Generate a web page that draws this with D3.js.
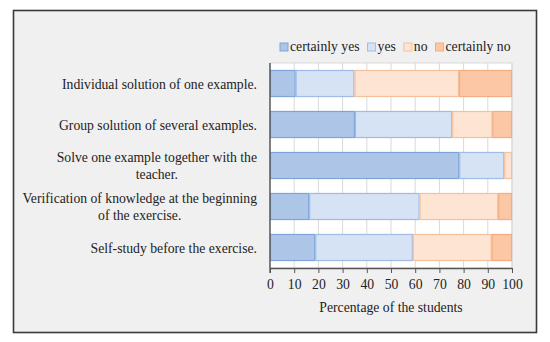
<!DOCTYPE html>
<html>
<head>
<meta charset="utf-8">
<script src="https://cdn.jsdelivr.net/npm/d3@7"></script>
<style>
  body { margin: 0; background: #fff; }
  text { font-family: "Liberation Serif", "DejaVu Serif", serif; fill: #222; }
</style>
</head>
<body>
<div id="chart"></div>
<script>
const width = 550
const height = 342

const categories = [
    "Individual solution of one example.",
    "Group solution of several examples.",
    "Solve one example together with the|teacher.",
    "Verification of knowledge at the beginning|of the exercise.",
    "Self-study before the exercise.",
]
const seriesNames = ["certainly yes", "yes", "no", "certainly no"]
const certainlyYes = [10.6, 35.1, 78.2, 16.2, 18.7]
const yes = [24.3, 40.2, 18.6, 45.6, 40.3]
const no = [43.2, 16.6, 3.2, 32.5, 32.6]
const certainlyNo = [21.9, 8.1, 0, 5.7, 8.4]
const xTicks = [0, 10, 20, 30, 40, 50, 60, 70, 80, 90, 100]

const fills = ["#adc6e8", "#d6e3f4", "#fde4d3", "#fbc7a5"]
const strokes = ["#7fa4d8", "#9ebce4", "#f7c09c", "#f3ad82"]

const rows = categories.map((c, i) => ({
    label: c,
    values: [certainlyYes[i], yes[i], no[i], certainlyNo[i]],
}))

const plot = { left: 270, right: 512, top: 63, bottom: 268 }
const fontSize = 13.7

const svg = d3.select("#chart").append("svg").attr("width", width).attr("height", height)

// outer frame
svg.append("rect")
    .attr("x", 13.5).attr("y", 10.5)
    .attr("width", 523).attr("height", 322)
    .attr("fill", "#f0f0f0")
    .attr("stroke", "#3a3a3a")
    .attr("stroke-width", 1.6)

const x = d3.scaleLinear().domain([0, 100]).range([plot.left, plot.right])
const y = d3.scaleBand().domain(d3.range(rows.length)).range([plot.top, plot.bottom]).paddingInner(0.34).paddingOuter(0.17)

svg.append("rect")
    .attr("x", plot.left).attr("y", plot.top)
    .attr("width", plot.right - plot.left).attr("height", plot.bottom - plot.top)
    .attr("fill", "#fff")
    .attr("stroke", "#d9d9d9")

// gridlines
svg.append("g")
    .selectAll("line")
    .data(xTicks)
    .enter()
    .append("line")
    .attr("x1", (d) => x(d)).attr("x2", (d) => x(d))
    .attr("y1", plot.top).attr("y2", plot.bottom)
    .attr("stroke", "#d9d9d9")
    .attr("stroke-width", 1)

// bars
const stacked = rows.map((r, i) => {
    let acc = 0
    return r.values.map((v, k) => {
        const seg = { row: i, k, x0: acc, x1: acc + v }
        acc += v
        return seg
    })
}).flat().filter((s) => s.x1 > s.x0)

svg.append("g")
    .selectAll("rect")
    .data(stacked)
    .enter()
    .append("rect")
    .attr("x", (d) => x(d.x0) + 0.5)
    .attr("y", (d) => y(d.row) + 0.5)
    .attr("width", (d) => x(d.x1) - x(d.x0) - 1)
    .attr("height", y.bandwidth() - 1)
    .attr("fill", (d) => fills[d.k])
    .attr("stroke", (d) => strokes[d.k])
    .attr("stroke-width", 1.2)

// axes
const xAxis = svg.append("g")
    .attr("transform", `translate(0,${plot.bottom})`)
    .call(d3.axisBottom(x).tickValues(xTicks).tickSize(5).tickSizeOuter(0).tickPadding(6))
xAxis.select(".domain").attr("stroke", "#555").attr("stroke-width", 1.4)
xAxis.selectAll(".tick line").attr("stroke", "#555")
xAxis.selectAll(".tick text").attr("font-size", fontSize).attr("fill", "#222")
    .attr("font-family", '"Liberation Serif", serif')

svg.append("line")
    .attr("x1", plot.left).attr("x2", plot.left)
    .attr("y1", plot.top).attr("y2", plot.bottom + 5)
    .attr("stroke", "#555").attr("stroke-width", 1.4)

svg.append("text")
    .attr("x", (plot.left + plot.right) / 2)
    .attr("y", 312)
    .attr("text-anchor", "middle")
    .attr("font-size", fontSize)
    .text("Percentage of the students")

// category labels: block right-aligned, lines centred
const labelRight = 257
rows.forEach((r, i) => {
    const lines = r.label.split("|")
    const cy = y(i) + y.bandwidth() / 2
    const g = svg.append("g")
    const texts = lines.map((line, j) =>
        g.append("text")
            .attr("font-size", fontSize)
            .attr("y", cy + (j - (lines.length - 1) / 2) * 17 + 5)
            .attr("text-anchor", "middle")
            .text(line)
    )
    const maxW = d3.max(texts, (t) => t.node().getComputedTextLength())
    texts.forEach((t) => t.attr("x", labelRight - maxW / 2))
})

// legend
const legend = svg.append("g").attr("transform", "translate(280,43)")
let lx = 0
seriesNames.forEach((name, k) => {
    const item = legend.append("g").attr("transform", `translate(${lx},0)`)
    item.append("rect").attr("width", 8).attr("height", 8)
        .attr("fill", fills[k]).attr("stroke", strokes[k])
    const t = item.append("text").attr("x", 10).attr("y", 8).attr("font-size", fontSize).text(name)
    lx += 10 + t.node().getComputedTextLength() + 8
})
</script>
</body>
</html>
